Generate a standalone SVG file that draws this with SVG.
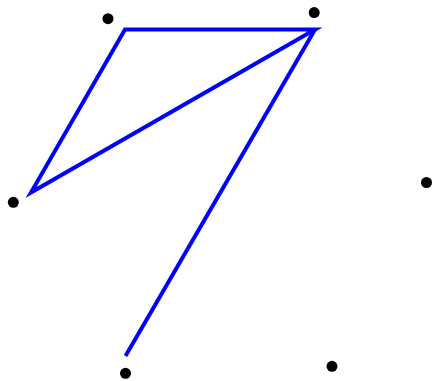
<svg xmlns="http://www.w3.org/2000/svg" width="432" height="381" viewBox="0 0 432 381">
<style>
.e{stroke:#0000ff;stroke-width:4;fill:none;stroke-linejoin:miter}
.d{fill:#000}
</style>
<rect width="432" height="381" fill="#fff"/>
<g id="connectors">
<path class="e" d="M315,29.5 L125,29.5 L31,192.5 Z"/>
<path class="e" d="M315,29.5 L125.5,356"/>
</g>
<g id="n1"><circle class="d" cx="108" cy="18.7" r="5.5"/></g>
<g id="n2"><circle class="d" cx="314.2" cy="12.6" r="5.5"/></g>
<g id="n3"><circle class="d" cx="13.3" cy="202.3" r="5.5"/></g>
<g id="n4"><circle class="d" cx="426.5" cy="182.5" r="5.5"/></g>
<g id="n5"><circle class="d" cx="125.5" cy="373.3" r="5.5"/></g>
<g id="n6"><circle class="d" cx="332" cy="366.3" r="5.5"/></g>
</svg>
